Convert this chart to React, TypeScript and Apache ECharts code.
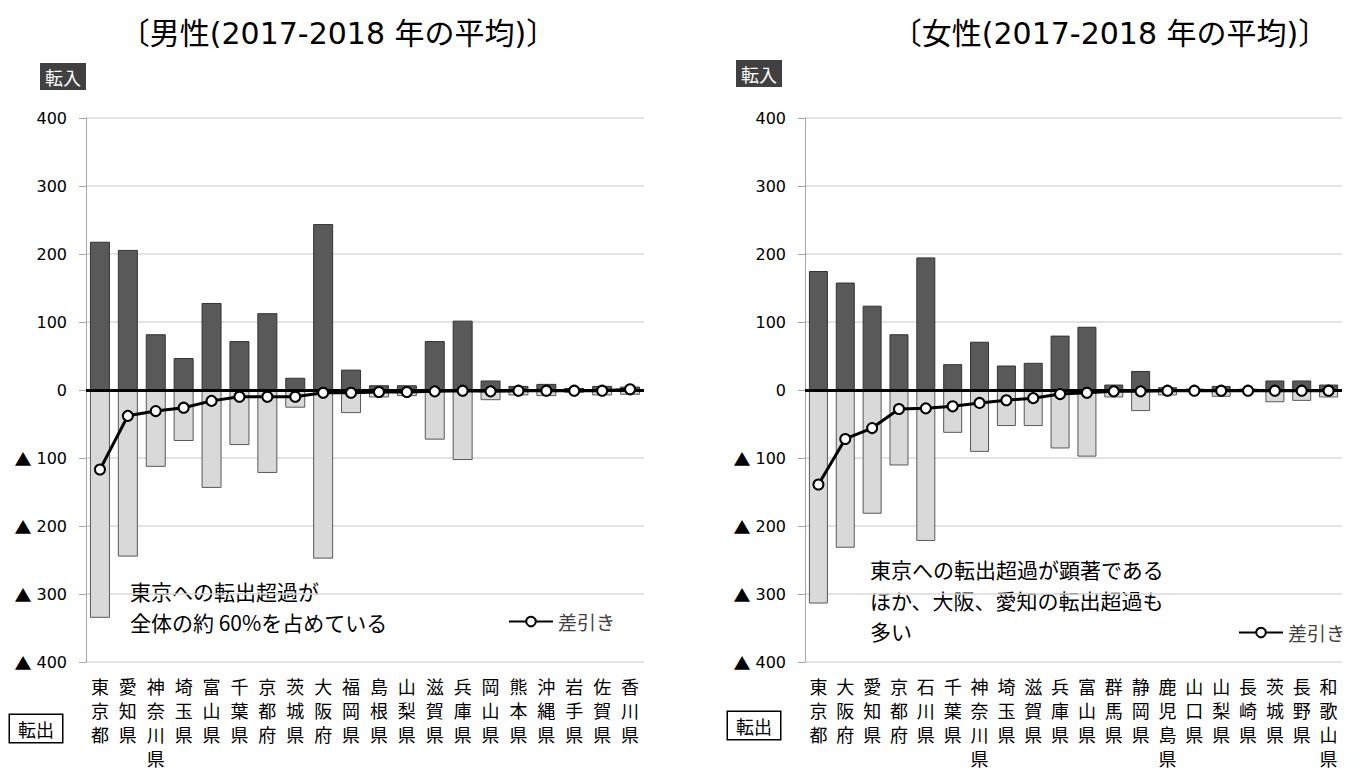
import React, { useEffect, useRef } from 'react';
import * as echarts from 'echarts';

const maleCategories = ['東京都', '愛知県', '神奈川県', '埼玉県', '富山県', '千葉県', '京都府', '茨城県', '大阪府', '福岡県', '島根県', '山梨県', '滋賀県', '兵庫県', '岡山県', '熊本県', '沖縄県', '岩手県', '佐賀県', '香川県'];
const maleIn = [218, 206, 82, 47, 128, 72, 113, 18, 244, 30, 7, 7, 72, 102, 14, 6, 9, 3, 6, 5];
const maleOut = [-335, -245, -113, -75, -144, -81, -122, -26, -248, -34, -11, -9, -73, -103, -15, -8, -9, -4, -8, -7];
const maleDiff = [-117, -38, -31, -26, -16, -10, -10, -10, -4, -4, -3, -3, -2, -1, -2, -1, -1, -1, -1, 1];

const femaleCategories = ['東京都', '大阪府', '愛知県', '京都府', '石川県', '千葉県', '神奈川県', '埼玉県', '滋賀県', '兵庫県', '富山県', '群馬県', '静岡県', '鹿児島県', '山口県', '山梨県', '長崎県', '茨城県', '長野県', '和歌山県'];
const femaleIn = [175, 158, 124, 82, 195, 38, 71, 36, 40, 80, 93, 8, 28, 4, 2, 6, 2, 14, 14, 8];
const femaleOut = [-314, -232, -182, -111, -222, -63, -91, -53, -53, -86, -98, -11, -31, -8, -3, -10, -3, -18, -16, -11];
const femaleDiff = [-139, -72, -56, -28, -27, -24, -19, -15, -12, -6, -4, -2, -2, -1, -1, -1, -1, -1, -1, -1];

const yMin = -400;
const yMax = 400;
const yInterval = 100;

const titles = ['〔男性(2017-2018 年の平均)〕', '〔女性(2017-2018 年の平均)〕'];
const inLabel = '転入';
const outLabel = '転出';
const diffName = '差引き';
const maleNoteLines = ['東京への転出超過が', '全体の約 60%を占めている'];
const femaleNoteLines = ['東京への転出超過が顕著である', 'ほか、大阪、愛知の転出超過も', '多い'];

const FONT = '"Noto Sans CJK JP", "Noto Sans", sans-serif';
const NUMFONT = '"DejaVu Sans", "Noto Sans CJK JP", sans-serif';

export default function App() {
  const ref = useRef<HTMLDivElement>(null);
  useEffect(() => {
    if (!ref.current) return;
    const chart = echarts.init(ref.current, undefined, { renderer: 'svg' });

    const grids = [
      { left: 86, width: 558, top: 118, height: 544 },
      { left: 805, width: 537, top: 118, height: 544 },
    ];
    const cats = [maleCategories, femaleCategories];
    const ins = [maleIn, femaleIn];
    const outs = [maleOut, femaleOut];
    const diffs = [maleDiff, femaleDiff];
    const barW = [20, 19];

    const xAxes = [0, 1].map((i) => ({
      type: 'category',
      gridIndex: i,
      data: cats[i],
      axisLine: { show: false },
      axisTick: { show: false },
      splitLine: { show: false },
      axisLabel: {
        interval: 0,
        formatter: (v: string) => v.split('').join('\n'),
        fontSize: 18,
        lineHeight: 24,
        color: '#000',
        margin: 12,
        fontFamily: FONT,
      },
    }));
    const yAxes = [0, 1].map((i) => ({
      type: 'value',
      gridIndex: i,
      min: yMin,
      max: yMax,
      interval: yInterval,
      axisLine: { show: true, lineStyle: { color: '#a6a6a6', width: 1 } },
      axisTick: { show: true, length: 7, lineStyle: { color: '#a6a6a6' } },
      splitLine: { show: true, lineStyle: { color: '#d9d9d9', width: 1.5 } },
      axisLabel: {
        formatter: (v: number) => (v < 0 ? '{t|▲} ' + -v : String(v)),
        fontSize: 16,
        color: '#000',
        margin: 19,
        fontFamily: NUMFONT,
        rich: {
          t: { fontSize: 17, fontFamily: FONT, color: '#000' },
        },
      },
    }));

    const series: any[] = [];
    [0, 1].forEach((i) => {
      series.push({
        name: inLabel,
        type: 'bar',
        xAxisIndex: i,
        yAxisIndex: i,
        data: ins[i],
        barWidth: barW[i],
        barGap: '-100%',
        itemStyle: { color: '#595959', borderColor: '#333', borderWidth: 1 },
        z: 2,
      });
      series.push({
        name: outLabel,
        type: 'bar',
        xAxisIndex: i,
        yAxisIndex: i,
        data: outs[i],
        barWidth: barW[i],
        barGap: '-100%',
        itemStyle: { color: '#d9d9d9', borderColor: '#595959', borderWidth: 1 },
        z: 2,
        markLine: {
          silent: true,
          symbol: 'none',
          label: { show: false },
          lineStyle: { color: '#000', width: 3, type: 'solid' },
          data: [{ yAxis: 0 }],
          z: 3,
        },
      });
      series.push({
        name: diffName,
        type: 'line',
        xAxisIndex: i,
        yAxisIndex: i,
        data: diffs[i],
        symbol: 'circle',
        symbolSize: 10,
        itemStyle: { color: '#fff', borderColor: '#000', borderWidth: 2 },
        lineStyle: { color: '#000', width: 3 },
        z: 5,
      });
    });

    const boxIn = (x: number, y: number) => ({
      type: 'text',
      x,
      y,
      style: {
        text: inLabel,
        fill: '#fff',
        backgroundColor: '#404040',
        padding: [5, 5, 4, 5],
        fontSize: 18,
        fontFamily: FONT,
      },
    });
    const boxOut = (x: number, y: number) => ({
      type: 'text',
      x,
      y,
      style: {
        text: outLabel,
        fill: '#000',
        backgroundColor: '#fff',
        borderColor: '#000',
        borderWidth: 1.5,
        padding: [5, 8, 4, 8],
        fontSize: 18,
        fontFamily: FONT,
      },
    });
    const noteLines = (lines: string[], x: number, y0: number) =>
      lines.map((t, k) => ({
        type: 'text',
        x,
        y: y0 + k * 31,
        style: { text: t, fontSize: 21, lineHeight: 26, fill: '#000', textVerticalAlign: 'middle', fontFamily: FONT },
      }));

    const legendBase = {
      data: [diffName],
      itemWidth: 44,
      itemHeight: 12,
      padding: 0,
      itemGap: 6,
      selectedMode: false,
      textStyle: { fontSize: 19, color: '#404040', fontFamily: FONT },
    };

    chart.setOption({
      animation: false,
      textStyle: { fontFamily: FONT },
      grid: grids,
      xAxis: xAxes,
      yAxis: yAxes,
      series,
      legend: [
        { ...legendBase, left: 508, top: 612 },
        { ...legendBase, left: 1238, top: 623 },
      ],
      graphic: [
        {
          type: 'text',
          x: 338,
          y: 33,
          style: { text: titles[0], fontSize: 30, fill: '#000', textAlign: 'center', textVerticalAlign: 'middle', fontFamily: NUMFONT },
        },
        {
          type: 'text',
          x: 1110,
          y: 33,
          style: { text: titles[1], fontSize: 30, fill: '#000', textAlign: 'center', textVerticalAlign: 'middle', fontFamily: NUMFONT },
        },
        boxIn(40, 63),
        boxIn(736, 60),
        boxOut(10, 715),
        boxOut(728, 712),
        ...noteLines(maleNoteLines, 130, 591),
        ...noteLines(femaleNoteLines, 870, 569),
      ],
    });
    return () => chart.dispose();
  }, []);
  return <div ref={ref} style={{ position: 'absolute', left: 0, top: 0, width: 1361, height: 774 }} />;
}
